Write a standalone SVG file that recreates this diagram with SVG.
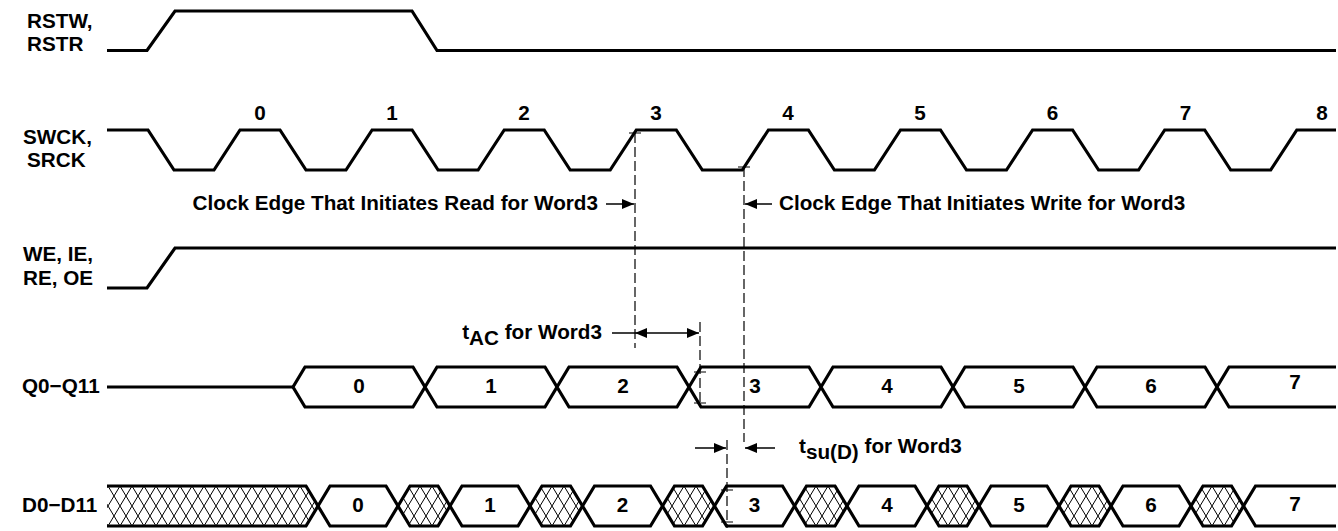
<svg xmlns="http://www.w3.org/2000/svg" width="1338" height="531" viewBox="0 0 1338 531">
<style>
.sig{fill:none;stroke:#000;stroke-width:3.2;stroke-linejoin:miter}
.bus{fill:#fff;stroke:#000;stroke-width:3.2;stroke-linejoin:miter}
.hat{fill:url(#hatch);stroke:#000;stroke-width:3.2;stroke-linejoin:miter}
.hatf{fill:url(#hatch);stroke:none}
.t{font-family:"Liberation Sans",Arial,sans-serif;font-weight:bold;font-size:20.7px;fill:#000}
.m{text-anchor:middle}
.dash{stroke:#000;stroke-width:1.2;stroke-dasharray:10 4;fill:none}
.tick{stroke:#000;stroke-width:1.2;fill:none}
.arr{stroke:#000;stroke-width:1.5;fill:none}
</style>
<defs>
<pattern id="hatch" patternUnits="userSpaceOnUse" x="0" y="486" width="12" height="20">
<rect width="12" height="20" fill="#fff"/>
<path d="M-3,-5 L15,25 M15,-5 L-3,25" stroke="#000" stroke-width="1"/>
</pattern>
<marker id="ah" markerUnits="userSpaceOnUse" markerWidth="12" markerHeight="10" refX="12" refY="5" orient="auto-start-reverse">
<path d="M0,0 L12,5 L0,10 Z" fill="#000"/>
</marker>
</defs>
<rect width="1338" height="531" fill="#fff"/>

<g id="labels">
<text class="t" x="27" y="28">RSTW,</text>
<text class="t" x="27" y="51">RSTR</text>
<text class="t" x="23" y="144">SWCK,</text>
<text class="t" x="27" y="167">SRCK</text>
<text class="t" x="23" y="261">WE, IE,</text>
<text class="t" x="23" y="285">RE, OE</text>
<text class="t" x="22" y="393">Q0−Q11</text>
<text class="t" x="22" y="512">D0−D11</text>
</g>

<g id="sig-rstw">
<path class="sig" d="M107,50.5 H147 L175,11 H412 L437,50.5 H1336"/>
</g>

<g id="sig-swck">
<path class="sig" d="M107,130 H148 L174,170 H214 L240,130 H280 L306,170 H346 L372.1,130 H412.1 L438.1,170 H478.1 L504.2,130 H544.2 L570.2,170 H610.2 L636.3,130 H676.3 L702.3,170 H742.3 L768.4,130 H808.4 L834.4,170 H874.4 L900.5,130 H940.5 L966.5,170 H1006.5 L1032.6,130 H1072.6 L1098.6,170 H1138.6 L1164.7,130 H1204.7 L1230.7,170 H1270.7 L1296.8,130 H1336"/>
<text class="t m" x="260" y="120">0</text>
<text class="t m" x="392" y="120">1</text>
<text class="t m" x="524" y="120">2</text>
<text class="t m" x="656" y="120">3</text>
<text class="t m" x="788" y="120">4</text>
<text class="t m" x="920" y="120">5</text>
<text class="t m" x="1052.6" y="120">6</text>
<text class="t m" x="1185.5" y="120">7</text>
<text class="t m" x="1322" y="120">8</text>
</g>

<g id="sig-we">
<path class="sig" d="M107,288 H147 L175,248 H1336"/>
</g>

<g id="sig-q">
<path class="sig" d="M107,387 H293"/>
<polygon class="bus" points="293,387 305,367 413,367 425,387 413,407 305,407"/>
<polygon class="bus" points="425,387 437,367 545,367 557,387 545,407 437,407"/>
<polygon class="bus" points="557,387 569,367 677,367 689,387 677,407 569,407"/>
<polygon class="bus" points="689,387 701,367 809,367 821,387 809,407 701,407"/>
<polygon class="bus" points="821,387 833,367 941,367 953,387 941,407 833,407"/>
<polygon class="bus" points="953,387 965,367 1073,367 1085,387 1073,407 965,407"/>
<polygon class="bus" points="1085,387 1097,367 1205,367 1217,387 1205,407 1097,407"/>
<path class="sig" d="M1336,367 H1229 L1217,387 L1229,407 H1336"/>
<text class="t m" x="359" y="393">0</text>
<text class="t m" x="491" y="393">1</text>
<text class="t m" x="623" y="393">2</text>
<text class="t m" x="755" y="393">3</text>
<text class="t m" x="887" y="393">4</text>
<text class="t m" x="1019" y="393">5</text>
<text class="t m" x="1151" y="393">6</text>
<text class="t m" x="1295" y="389">7</text>
</g>

<g id="sig-d">
<polygon class="hatf" points="107,486 306,486 318,506 306,526 107,526"/>
<path class="sig" d="M107,486 H306 L318,506 L306,526 H107"/>
<polygon class="hat" points="398,506 410,486 438,486 450,506 438,526 410,526"/>
<polygon class="hat" points="530,506 542,486 570.5,486 582.5,506 570.5,526 542,526"/>
<polygon class="hat" points="662.5,506 674.5,486 702.5,486 714.5,506 702.5,526 674.5,526"/>
<polygon class="hat" points="794.5,506 806.5,486 835,486 847,506 835,526 806.5,526"/>
<polygon class="hat" points="927,506 939,486 967,486 979,506 967,526 939,526"/>
<polygon class="hat" points="1059,506 1071,486 1099,486 1111,506 1099,526 1071,526"/>
<polygon class="hat" points="1191,506 1203,486 1231.5,486 1243.5,506 1231.5,526 1203,526"/>
<polygon class="bus" points="318,506 330,486 386,486 398,506 386,526 330,526"/>
<polygon class="bus" points="450,506 462,486 518,486 530,506 518,526 462,526"/>
<polygon class="bus" points="582.5,506 594.5,486 650.5,486 662.5,506 650.5,526 594.5,526"/>
<polygon class="bus" points="714.5,506 726.5,486 782.5,486 794.5,506 782.5,526 726.5,526"/>
<polygon class="bus" points="847,506 859,486 915,486 927,506 915,526 859,526"/>
<polygon class="bus" points="979,506 991,486 1047,486 1059,506 1047,526 991,526"/>
<polygon class="bus" points="1111,506 1123,486 1179,486 1191,506 1179,526 1123,526"/>
<path class="sig" d="M1336,486 H1255.5 L1243.5,506 L1255.5,526 H1336"/>
<text class="t m" x="358" y="512">0</text>
<text class="t m" x="490" y="512">1</text>
<text class="t m" x="622.5" y="512">2</text>
<text class="t m" x="754.5" y="512">3</text>
<text class="t m" x="887" y="512">4</text>
<text class="t m" x="1019" y="512">5</text>
<text class="t m" x="1151" y="512">6</text>
<text class="t m" x="1295" y="511">7</text>
</g>

<g id="connectors">
<line class="dash" x1="635" y1="133" x2="635" y2="348"/>
<line class="dash" x1="744" y1="167" x2="744" y2="442"/>
<line class="dash" x1="700" y1="322" x2="700" y2="405"/>
<line class="dash" x1="727" y1="440" x2="727" y2="528"/>
<path class="tick" d="M629,133 H641 M738,167 H750 M694,372 H706 M694,403 H706 M721,490 H733 M721,522 H733"/>
<line class="arr" x1="606" y1="204" x2="634" y2="204" marker-end="url(#ah)"/>
<line class="arr" x1="772" y1="204" x2="745" y2="204" marker-end="url(#ah)"/>
<line class="arr" x1="612" y1="333" x2="635" y2="333"/>
<line class="arr" x1="635" y1="333" x2="699" y2="333" marker-start="url(#ah)" marker-end="url(#ah)"/>
<line class="arr" x1="695" y1="448" x2="726" y2="448" marker-end="url(#ah)"/>
<line class="arr" x1="775" y1="448" x2="745" y2="448" marker-end="url(#ah)"/>
</g>

<g id="annotations">
<text class="t" x="598" y="210" text-anchor="end">Clock Edge That Initiates Read for Word3</text>
<text class="t" x="779" y="210">Clock Edge That Initiates Write for Word3</text>
<text class="t" x="602" y="339" text-anchor="end">t<tspan dy="6">AC</tspan><tspan dy="-6"> for Word3</tspan></text>
<text class="t" x="799" y="453">t<tspan dy="6">su(D)</tspan><tspan dy="-6"> for Word3</tspan></text>
</g>
</svg>
